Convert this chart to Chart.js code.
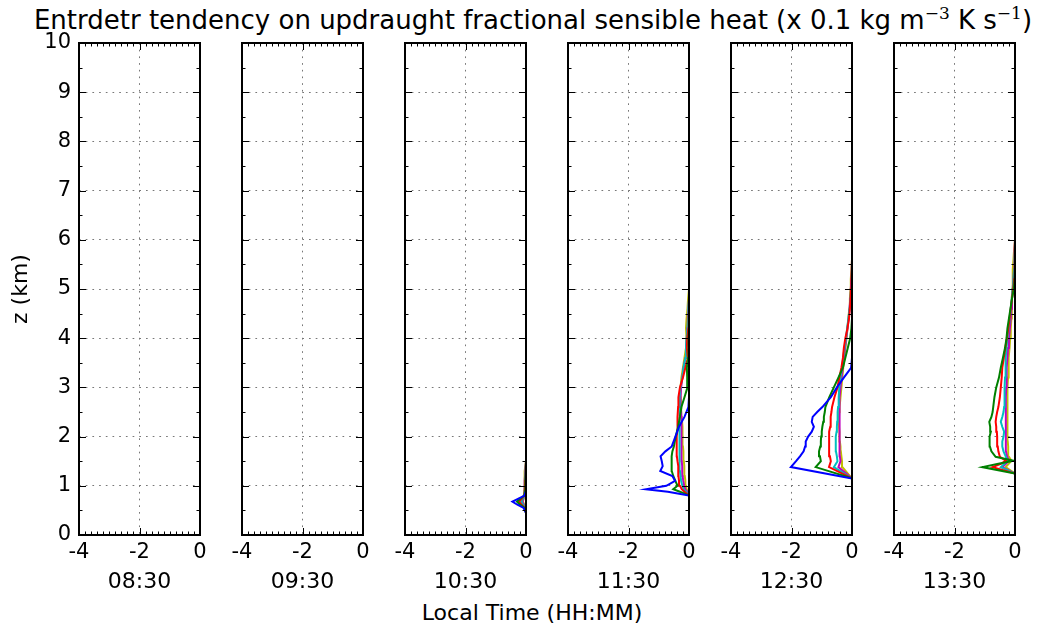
<!DOCTYPE html>
<html lang="en">
<head>
<meta charset="UTF-8" />
<title>Entrdetr tendency on updraught fractional sensible heat</title>
<script src="https://cdn.jsdelivr.net/npm/chart.js@4"></script>
<style>
  body { margin: 0; background: #fff; font-family: "DejaVu Sans", sans-serif; }
  #fig { position: relative; width: 1046px; height: 630px; overflow: hidden; }
  #fig canvas { position: absolute; top: 0; }
  #title {
    position: absolute; left: 0; width: 1066px; top: 5px;
    text-align: center; font-size: 26px; line-height: 30px; color: #000; white-space: nowrap;
  }
  #title sup { font-family: "DejaVu Serif", serif; font-size: 17px; vertical-align: 10px; line-height: 0; }
  #xlabel {
    position: absolute; left: 0; width: 1064px; top: 601px;
    text-align: center; font-size: 22px; line-height: 24px; color: #000;
  }
</style>
</head>
<body>
<div id="fig">
  <div id="title">Entrdetr tendency on updraught fractional sensible heat (x 0.1 kg m<sup>&minus;3</sup> K s<sup>&minus;1</sup>)</div>
  <div id="xlabel">Local Time (HH:MM)</div>
</div>
<script>
// panel times
const times = ["08:30", "09:30", "10:30", "11:30", "12:30", "13:30"];
const xTicks = [-4, -2, 0];
const zTicks = [0, 1, 2, 3, 4, 5, 6, 7, 8, 9, 10];
const seriesColors = ["#0000ff", "#008000", "#ff0000", "#00bfbf", "#bf00bf", "#bfbf00"];

// heights (km) and values per panel, one row per line: b, g, r, c, m, y
const z1030 = [0.45, 0.55, 0.62, 0.68, 0.74, 0.8, 0.9, 1.1, 1.3, 1.5];
const x1030 = [
  [0, -0.08, -0.3, -0.45, -0.25, -0.05, 0, 0, 0, 0],
  [0, -0.05, -0.2, -0.3, -0.18, -0.06, -0.03, -0.02, 0, 0],
  [0, -0.04, -0.15, -0.23, -0.14, -0.06, -0.04, -0.03, -0.01, 0],
  [0, -0.03, -0.1, -0.16, -0.1, -0.06, -0.04, -0.03, -0.02, 0],
  [0, -0.02, -0.08, -0.12, -0.09, -0.06, -0.05, -0.04, -0.02, 0],
  [0, -0.02, -0.06, -0.1, -0.08, -0.07, -0.06, -0.05, -0.04, 0]
];

const z1130 = [0.8, 0.88, 0.93, 1.0, 1.1, 1.2, 1.3, 1.4, 1.5, 1.6, 1.7, 1.8, 2.0, 2.2, 2.4, 2.6, 2.8, 3.0, 3.2, 3.4, 3.6, 3.8, 4.0, 4.2, 4.4, 4.6, 4.8, 5.0];
const x1130 = [
  [0, -0.7, -1.42, -0.75, -0.46, -0.55, -0.95, -0.87, -0.9, -0.94, -0.78, -0.57, -0.45, -0.33, -0.15, -0.02, 0, 0, 0, 0, 0, 0, 0, 0, 0, 0, 0, 0],
  [0, -0.3, -0.52, -0.38, -0.45, -0.52, -0.57, -0.57, -0.58, -0.57, -0.55, -0.5, -0.44, -0.36, -0.3, -0.25, -0.15, -0.05, -0.06, -0.07, -0.03, -0.02, -0.01, 0, 0, 0, 0, 0],
  [0, -0.15, -0.24, -0.3, -0.33, -0.35, -0.36, -0.35, -0.38, -0.4, -0.41, -0.41, -0.4, -0.37, -0.38, -0.36, -0.35, -0.3, -0.2, -0.12, -0.04, -0.07, -0.06, -0.02, -0.01, 0, 0, 0],
  [0, -0.1, -0.18, -0.22, -0.26, -0.28, -0.3, -0.3, -0.31, -0.32, -0.33, -0.33, -0.32, -0.3, -0.3, -0.3, -0.32, -0.28, -0.22, -0.18, -0.12, -0.1, -0.08, -0.05, -0.03, -0.02, 0, 0],
  [0, -0.06, -0.12, -0.16, -0.19, -0.21, -0.22, -0.23, -0.24, -0.25, -0.25, -0.26, -0.25, -0.24, -0.25, -0.27, -0.28, -0.26, -0.22, -0.18, -0.12, -0.1, -0.07, -0.06, -0.04, -0.02, 0, 0],
  [0, -0.04, -0.08, -0.1, -0.12, -0.14, -0.15, -0.16, -0.17, -0.18, -0.19, -0.2, -0.21, -0.22, -0.24, -0.26, -0.27, -0.28, -0.25, -0.2, -0.15, -0.1, -0.08, -0.1, -0.08, -0.05, -0.03, 0]
];

const z1230 = [1.0, 1.15, 1.38, 1.5, 1.6, 1.7, 1.8, 1.9, 2.0, 2.1, 2.2, 2.3, 2.4, 2.5, 2.6, 2.8, 3.0, 3.2, 3.4, 3.6, 3.8, 4.0, 4.2, 4.4, 4.6, 4.8, 5.0, 5.2, 5.4, 5.6];
const x1230 = [
  [0, 0, -2.02, -1.85, -1.72, -1.6, -1.55, -1.53, -1.45, -1.33, -1.26, -1.33, -1.3, -1.15, -0.98, -0.7, -0.5, -0.27, -0.03, 0, 0, 0, 0, 0, 0, 0, 0, 0, 0, 0],
  [0, 0, -1.2, -1.03, -1.06, -1.09, -1.05, -1.03, -1.02, -1.0, -0.98, -0.95, -0.93, -0.9, -0.88, -0.75, -0.6, -0.45, -0.3, -0.22, -0.14, -0.06, -0.02, 0, 0, 0, 0, 0, 0, 0],
  [0, 0, -0.76, -0.7, -0.73, -0.76, -0.76, -0.76, -0.76, -0.74, -0.72, -0.71, -0.7, -0.68, -0.66, -0.58, -0.48, -0.42, -0.35, -0.3, -0.27, -0.22, -0.15, -0.1, -0.07, -0.05, -0.03, -0.02, 0, 0],
  [0, 0, -0.6, -0.48, -0.5, -0.53, -0.54, -0.54, -0.53, -0.51, -0.5, -0.49, -0.48, -0.47, -0.46, -0.44, -0.42, -0.38, -0.33, -0.29, -0.25, -0.2, -0.16, -0.12, -0.08, -0.05, -0.03, -0.01, 0, 0],
  [0, 0, -0.45, -0.38, -0.4, -0.42, -0.42, -0.42, -0.42, -0.42, -0.41, -0.41, -0.4, -0.4, -0.4, -0.4, -0.38, -0.35, -0.3, -0.27, -0.23, -0.19, -0.15, -0.11, -0.08, -0.06, -0.04, -0.02, -0.01, 0],
  [0, 0, -0.32, -0.33, -0.35, -0.37, -0.38, -0.4, -0.41, -0.42, -0.43, -0.43, -0.43, -0.42, -0.41, -0.38, -0.35, -0.32, -0.29, -0.25, -0.22, -0.18, -0.15, -0.12, -0.09, -0.07, -0.05, -0.04, -0.02, 0]
];

const z1330 = [1.1, 1.25, 1.38, 1.45, 1.51, 1.59, 1.7, 1.8, 1.9, 2.0, 2.1, 2.2, 2.3, 2.4, 2.5, 2.6, 2.8, 3.0, 3.2, 3.4, 3.6, 3.8, 4.0, 4.2, 4.4, 4.6, 4.8, 5.0, 5.2, 5.4, 5.6, 5.8, 6.0];
const x1330 = [
  [0, 0, 0, 0, 0, 0, 0, 0, 0, 0, 0, 0, 0, 0, 0, 0, 0, 0, 0, 0, 0, 0, 0, 0, 0, 0, 0, 0, 0, 0, 0, 0, 0],
  [0, 0, -1.08, -0.55, -0.05, -0.64, -0.78, -0.83, -0.85, -0.83, -0.8, -0.82, -0.85, -0.78, -0.74, -0.72, -0.68, -0.62, -0.53, -0.47, -0.4, -0.33, -0.28, -0.25, -0.2, -0.15, -0.1, -0.04, -0.01, 0, 0, 0, 0],
  [0, 0, -0.74, -0.45, -0.3, -0.5, -0.55, -0.57, -0.59, -0.59, -0.6, -0.62, -0.64, -0.62, -0.59, -0.55, -0.5, -0.47, -0.44, -0.42, -0.37, -0.32, -0.27, -0.22, -0.18, -0.14, -0.1, -0.06, -0.03, -0.01, 0, 0, 0],
  [0, 0, -0.47, -0.35, -0.25, -0.3, -0.38, -0.42, -0.42, -0.38, -0.36, -0.42, -0.47, -0.42, -0.38, -0.36, -0.35, -0.34, -0.33, -0.32, -0.3, -0.28, -0.25, -0.21, -0.17, -0.14, -0.11, -0.08, -0.05, -0.03, -0.01, 0, 0],
  [0, 0, -0.42, -0.3, -0.2, -0.26, -0.3, -0.31, -0.31, -0.3, -0.3, -0.31, -0.3, -0.3, -0.3, -0.3, -0.3, -0.29, -0.28, -0.27, -0.25, -0.23, -0.2, -0.17, -0.14, -0.12, -0.1, -0.07, -0.05, -0.03, -0.02, -0.01, 0],
  [0, 0, -0.31, -0.2, -0.12, -0.2, -0.22, -0.23, -0.24, -0.25, -0.25, -0.25, -0.25, -0.25, -0.25, -0.25, -0.25, -0.24, -0.23, -0.22, -0.2, -0.18, -0.16, -0.14, -0.12, -0.11, -0.1, -0.09, -0.08, -0.07, -0.05, -0.03, 0]
];

const panelZ = [[], [], z1030, z1130, z1230, z1330];
const panelX = [[], [], x1030, x1130, x1230, x1330];

// layout
const plotLeft = [79, 242, 405, 568, 731, 894];
const plotW = 121;
const tickFont = { family: "DejaVu Sans", size: 21 };
const labelFont = { family: "DejaVu Sans", size: 22 };

const framePlugin = {
  id: "frame",
  afterDatasetsDraw(chart) {
    const { ctx, chartArea: a, scales: { x, y } } = chart;
    ctx.save();
    ctx.strokeStyle = "#000";
    ctx.lineWidth = 1;
    ctx.beginPath();
    for (let i = 0; i <= 20; i++) {
      const px = Math.round(x.getPixelForValue(-4 + i * 0.2)) + 0.5;
      const len = i % 10 === 0 ? 7 : 3.5;
      ctx.moveTo(px, a.bottom); ctx.lineTo(px, a.bottom - len);
      ctx.moveTo(px, a.top); ctx.lineTo(px, a.top + len);
    }
    for (let i = 0; i <= 20; i++) {
      const py = Math.round(y.getPixelForValue(i * 0.5)) + 0.5;
      const len = i % 2 === 0 ? 7 : 3.5;
      ctx.moveTo(a.left, py); ctx.lineTo(a.left + len, py);
      ctx.moveTo(a.right, py); ctx.lineTo(a.right - len, py);
    }
    ctx.stroke();
    ctx.lineWidth = 2;
    ctx.strokeRect(a.left, a.top, a.right - a.left, a.bottom - a.top);
    ctx.restore();
  }
};

function makePanel(i) {
  const padL = i === 0 ? 79 : 20;
  const padR = 20;
  const canvas = document.createElement("canvas");
  canvas.width = padL + plotW + padR;
  canvas.height = 630;
  canvas.style.left = (plotLeft[i] - padL) + "px";
  document.getElementById("fig").appendChild(canvas);

  const datasets = panelX[i].map((xs, k) => ({
    data: xs.map((v, j) => ({ x: v, y: panelZ[i][j] })),
    borderColor: seriesColors[k],
    borderWidth: 2,
    pointRadius: 0,
    tension: 0
  }));

  new Chart(canvas, {
    type: "line",
    data: { datasets },
    options: {
      responsive: false,
      animation: false,
      layout: { padding: { top: 43, right: padR, bottom: 0, left: 0 } },
      plugins: { legend: { display: false }, tooltip: { enabled: false } },
      scales: {
        x: {
          type: "linear",
          min: -4,
          max: 0,
          afterBuildTicks: (s) => { s.ticks = xTicks.map((v) => ({ value: v })); },
          ticks: { font: tickFont, color: "#000", padding: 5, maxRotation: 0 },
          grid: { color: "#777", lineWidth: 1, drawTicks: false },
          border: { display: false, dash: [1.7, 5] },
          title: { display: true, text: times[i], font: labelFont, color: "#000", padding: { top: 0, bottom: 35 } },
          afterFit: (s) => { s.height = 95; }
        },
        y: {
          type: "linear",
          min: 0,
          max: 10,
          afterBuildTicks: (s) => { s.ticks = zTicks.map((v) => ({ value: v })); },
          ticks: { display: i === 0, font: tickFont, color: "#000", padding: 8 },
          grid: { color: "#777", lineWidth: 1, drawTicks: false },
          border: { display: false, dash: [1.7, 5] },
          title: { display: i === 0, text: "z (km)", font: labelFont, color: "#000", padding: { top: 8, bottom: 0 } },
          afterFit: (s) => { s.width = padL; }
        }
      }
    },
    plugins: [framePlugin]
  });
}

for (let i = 0; i < times.length; i++) makePanel(i);
</script>
</body>
</html>
